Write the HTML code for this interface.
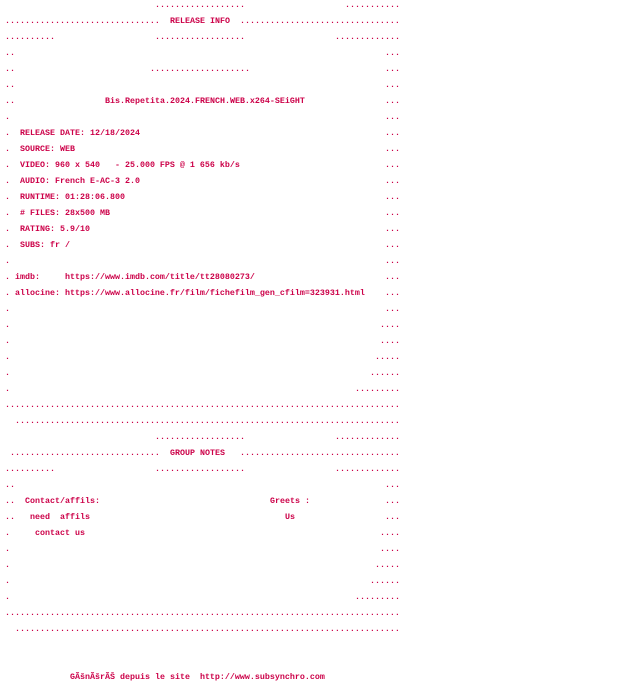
<!DOCTYPE html>
<html><head><meta charset="utf-8"><style>
html,body{margin:0;padding:0;background:#fff;width:640px;height:688px;overflow:hidden}
#w{position:relative;width:640px;height:688px;font-family:"Liberation Mono",monospace;font-size:8.33px;font-weight:bold;color:#cc0048;top:1px}
#w div{position:absolute;left:0;height:16px;line-height:16px;white-space:pre;width:640px}
#w span{position:absolute;top:0}
</style></head><body><div id="w">
<div style="top:-4px"><span style="left:155px">..................</span><span style="left:345px">...........</span></div>
<div style="top:12px"><span style="left:5px">...............................</span><span style="left:170px">RELEASE INFO</span><span style="left:240px">................................</span></div>
<div style="top:28px"><span style="left:5px">..........</span><span style="left:155px">..................</span><span style="left:335px">.............</span></div>
<div style="top:44px"><span style="left:5px">..</span><span style="left:385px">...</span></div>
<div style="top:60px"><span style="left:5px">..</span><span style="left:150px">....................</span><span style="left:385px">...</span></div>
<div style="top:76px"><span style="left:5px">..</span><span style="left:385px">...</span></div>
<div style="top:92px"><span style="left:5px">..</span><span style="left:105px">Bis.Repetita.2024.FRENCH.WEB.x264-SEiGHT</span><span style="left:385px">...</span></div>
<div style="top:108px"><span style="left:5px">.</span><span style="left:385px">...</span></div>
<div style="top:124px"><span style="left:5px">.</span><span style="left:20px">RELEASE DATE: 12/18/2024</span><span style="left:385px">...</span></div>
<div style="top:140px"><span style="left:5px">.</span><span style="left:20px">SOURCE: WEB</span><span style="left:385px">...</span></div>
<div style="top:156px"><span style="left:5px">.</span><span style="left:20px">VIDEO: 960 x 540   - 25.000 FPS @ 1 656 kb/s</span><span style="left:385px">...</span></div>
<div style="top:172px"><span style="left:5px">.</span><span style="left:20px">AUDIO: French E-AC-3 2.0</span><span style="left:385px">...</span></div>
<div style="top:188px"><span style="left:5px">.</span><span style="left:20px">RUNTIME: 01:28:06.800</span><span style="left:385px">...</span></div>
<div style="top:204px"><span style="left:5px">.</span><span style="left:20px"># FILES: 28x500 MB</span><span style="left:385px">...</span></div>
<div style="top:220px"><span style="left:5px">.</span><span style="left:20px">RATING: 5.9/10</span><span style="left:385px">...</span></div>
<div style="top:236px"><span style="left:5px">.</span><span style="left:20px">SUBS: fr /</span><span style="left:385px">...</span></div>
<div style="top:252px"><span style="left:5px">.</span><span style="left:385px">...</span></div>
<div style="top:268px"><span style="left:5px">.</span><span style="left:15px">imdb:     https://www.imdb.com/title/tt28080273/</span><span style="left:385px">...</span></div>
<div style="top:284px"><span style="left:5px">.</span><span style="left:15px">allocine: https://www.allocine.fr/film/fichefilm_gen_cfilm=323931.html</span><span style="left:385px">...</span></div>
<div style="top:300px"><span style="left:5px">.</span><span style="left:385px">...</span></div>
<div style="top:316px"><span style="left:5px">.</span><span style="left:380px">....</span></div>
<div style="top:332px"><span style="left:5px">.</span><span style="left:380px">....</span></div>
<div style="top:348px"><span style="left:5px">.</span><span style="left:375px">.....</span></div>
<div style="top:364px"><span style="left:5px">.</span><span style="left:370px">......</span></div>
<div style="top:380px"><span style="left:5px">.</span><span style="left:355px">.........</span></div>
<div style="top:396px"><span style="left:5px">...............................................................................</span></div>
<div style="top:412px"><span style="left:15px">.............................................................................</span></div>
<div style="top:428px"><span style="left:155px">..................</span><span style="left:335px">.............</span></div>
<div style="top:444px"><span style="left:10px">..............................</span><span style="left:170px">GROUP NOTES</span><span style="left:240px">................................</span></div>
<div style="top:460px"><span style="left:5px">..........</span><span style="left:155px">..................</span><span style="left:335px">.............</span></div>
<div style="top:476px"><span style="left:5px">..</span><span style="left:385px">...</span></div>
<div style="top:492px"><span style="left:5px">..</span><span style="left:25px">Contact/affils:</span><span style="left:270px">Greets :</span><span style="left:385px">...</span></div>
<div style="top:508px"><span style="left:5px">..</span><span style="left:30px">need  affils</span><span style="left:285px">Us</span><span style="left:385px">...</span></div>
<div style="top:524px"><span style="left:5px">.</span><span style="left:35px">contact us</span><span style="left:380px">....</span></div>
<div style="top:540px"><span style="left:5px">.</span><span style="left:380px">....</span></div>
<div style="top:556px"><span style="left:5px">.</span><span style="left:375px">.....</span></div>
<div style="top:572px"><span style="left:5px">.</span><span style="left:370px">......</span></div>
<div style="top:588px"><span style="left:5px">.</span><span style="left:355px">.........</span></div>
<div style="top:604px"><span style="left:5px">...............................................................................</span></div>
<div style="top:620px"><span style="left:15px">.............................................................................</span></div>
<div style="top:668px"><span style="left:70px">GÃšnÃšrÃŠ depuis le site  http://www.subsynchro.com</span></div>
</div></body></html>
